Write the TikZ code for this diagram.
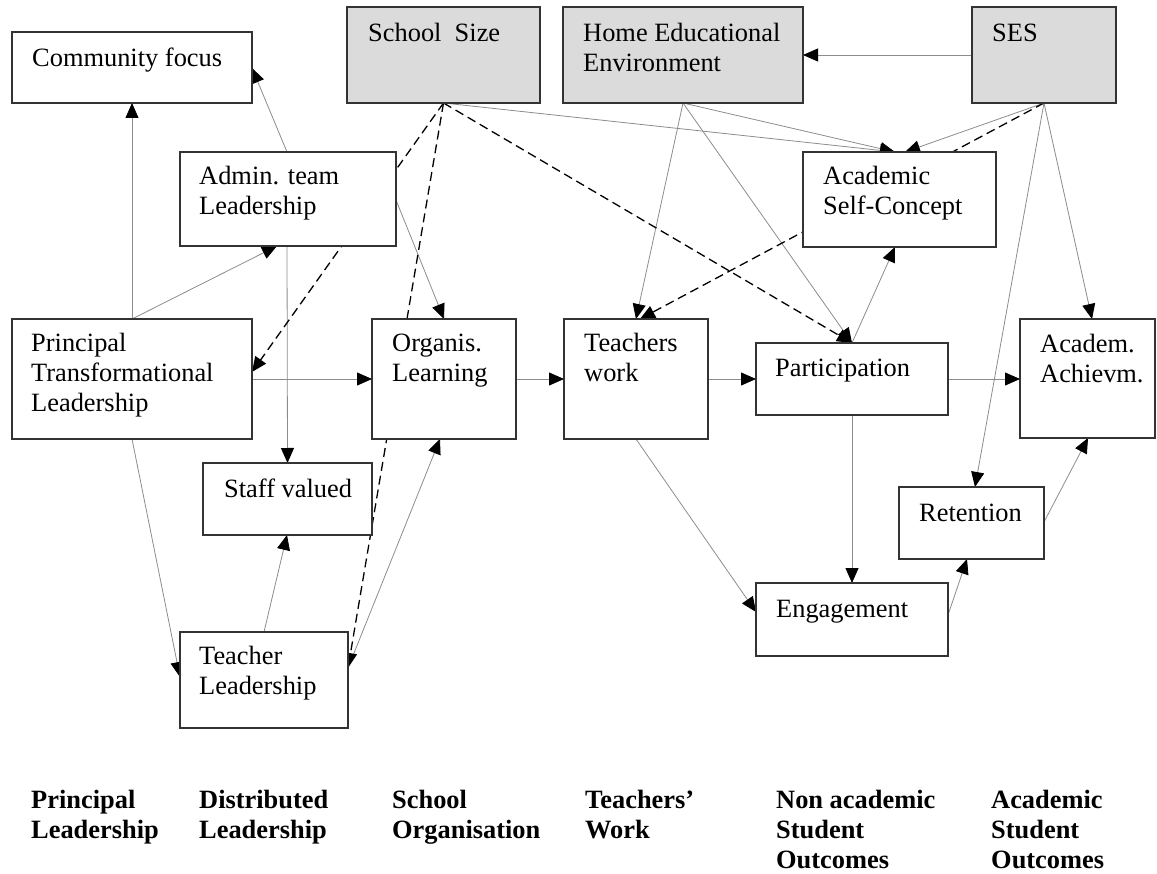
\documentclass[tikz,border=0pt]{standalone}
\usepackage{fontspec}
\setmainfont{Liberation Serif}
\usetikzlibrary{arrows.meta,calc,backgrounds}
% left-aligned block of lines whose baseline is the first line
\newcommand{\ml}[1]{\begin{tabular}[t]{@{}l@{}}#1\end{tabular}}
\begin{document}
\begin{tikzpicture}[x=1pt,y=-1pt,
  box/.style={draw=black!80, line width=1.2pt, fill=white, inner sep=0pt, outer sep=0pt, anchor=north west},
  ext/.style={box, fill=black!14},
  lbl/.style={inner sep=0pt, anchor=base west, font=\fontsize{26.4}{30}\selectfont},
  head/.style={inner sep=0pt, anchor=base west, font=\bfseries\fontsize{26.4}{30}\selectfont},
  link/.style={draw=black!45, line width=0.8pt, -{Triangle[length=15pt,width=13pt,color=black]}},
  dlink/.style={draw=black, line width=1.3pt, dash pattern=on 9pt off 5pt, -{Triangle[length=15pt,width=13pt,color=black]}},
]
\useasboundingbox (0,0) rectangle (1157,874);

% ---- boxes ----
\node[box, minimum width=240pt, minimum height=71pt]  (cf)   at (12,32)   {};
\node[ext, minimum width=193pt, minimum height=96pt]  (ss)   at (347,7)   {};
\node[ext, minimum width=240pt, minimum height=96pt]  (hee)  at (563,7)   {};
\node[ext, minimum width=144pt, minimum height=96pt]  (ses)  at (972,7)   {};
\node[box, minimum width=216pt, minimum height=94pt]  (adm)  at (180,152) {};
\node[box, minimum width=193pt, minimum height=95pt]  (asc)  at (803,152) {};
\node[box, minimum width=240pt, minimum height=120pt] (pr)   at (12,319)  {};
\node[box, minimum width=144pt, minimum height=120pt] (org)  at (372,319) {};
\node[box, minimum width=144pt, minimum height=120pt] (tw)   at (564,319) {};
\node[box, minimum width=192pt, minimum height=72pt]  (part) at (756,343) {};
\node[box, minimum width=135pt, minimum height=119pt] (ach)  at (1020,319) {};
\node[box, minimum width=169pt, minimum height=72pt]  (stf)  at (203,463) {};
\node[box, minimum width=145pt, minimum height=72pt]  (ret)  at (899,487) {};
\node[box, minimum width=192pt, minimum height=73pt]  (eng)  at (756,583) {};
\node[box, minimum width=168pt, minimum height=96pt]  (tl)   at (180,632) {};

% ---- box texts ----
\node[lbl] (cft)   at ($(cf.north west)+(20,35)$)   {\ml{Community focus}};
\node[lbl] (sst)   at ($(ss.north west)+(21,35)$)   {\ml{School~~Size}};
\node[lbl] (heet)  at ($(hee.north west)+(20,35)$)  {\ml{Home Educational\\Environment}};
\node[lbl] (sest)  at ($(ses.north west)+(20,35)$)  {\ml{SES}};
\node[lbl] (admt)  at ($(adm.north west)+(19,33)$)  {\ml{Admin. team\\Leadership}};
\node[lbl] (asct)  at ($(asc.north west)+(20,33)$)  {\ml{Academic\\Self-Concept}};
\node[lbl] (prt)   at ($(pr.north west)+(19,33)$)   {\ml{Principal\\Transformational\\Leadership}};
\node[lbl] (orgt)  at ($(org.north west)+(20,33)$)  {\ml{Organis.\\Learning}};
\node[lbl] (twt)   at ($(tw.north west)+(20,33)$)   {\ml{Teachers\\work}};
\node[lbl] (partt) at ($(part.north west)+(19,34)$) {\ml{Participation}};
\node[lbl] (acht)  at ($(ach.north west)+(20,34)$)  {\ml{Academ.\\Achievm.}};
\node[lbl] (stft)  at ($(stf.north west)+(21,34)$)  {\ml{Staff valued}};
\node[lbl] (rett)  at ($(ret.north west)+(20,34)$)  {\ml{Retention}};
\node[lbl] (engt)  at ($(eng.north west)+(20,34)$)  {\ml{Engagement}};
\node[lbl] (tlt)   at ($(tl.north west)+(19,32)$)   {\ml{Teacher\\Leadership}};

% ---- column headings ----
\node[head] (h1) at (31,808)  {\ml{Principal\\Leadership}};
\node[head] (h2) at (199,808) {\ml{Distributed\\Leadership}};
\node[head] (h3) at (392,808) {\ml{School\\Organisation}};
\node[head] (h4) at (585,808) {\ml{Teachers'\\Work}};
\node[head] (h5) at (776,808) {\ml{Non academic\\Student\\Outcomes}};
\node[head] (h6) at (991,808) {\ml{Academic\\Student\\Outcomes}};

% ---- connectors, behind the boxes ----
\begin{pgfonlayer}{background}
  % leadership paths
  \draw[link] ($(pr.north west)+(120,0)$) -- ($(cf.south west)+(120,0)$);
  \draw[link] ($(pr.north west)+(120,0)$) -- ($(adm.south west)+(97,0)$);
  \draw[link] ($(adm.north west)+(107,0)$) -- ($(cf.north east)+(0,36)$);
  \draw[link] ($(adm.south west)+(107,0)$) -- (stf.north);
  \draw[link] (pr.east) -- (org.west);
  \draw[link] ($(adm.north east)+(0,48)$) -- (org.north);
  \draw[link] ($(pr.south west)+(120,0)$) -- ($(tl.north west)+(0,45)$);
  \draw[link] ($(tl.north west)+(84,0)$) -- ($(stf.south west)+(84,0)$);
  \draw[link] ($(tl.north east)+(0,36)$) -- ($(org.south west)+(68,0)$);
  % main chain
  \draw[link] (org.east) -- (tw.west);
  \draw[link] (tw.east) -- (tw.east -| part.west);
  \draw[link] (part.east) -- (part.east -| ach.west);
  \draw[link] (tw.south) -- ($(eng.north west)+(0,29)$);
  \draw[link] (part.south) -- (eng.north);
  \draw[link] ($(eng.north east)+(0,32)$) -- ($(ret.south west)+(68,0)$);
  \draw[link] ($(ret.north east)+(0,35)$) -- ($(ach.south west)+(68,0)$);
  \draw[link] (part.north) -- ($(asc.south west)+(92,0)$);
  % background factors
  \draw[link] (ses.west) -- (ses.west -| hee.east);
  \draw[link] (ses.south) -- ($(asc.north west)+(102,0)$);
  \draw[link] (ses.south) -- ($(ret.north west)+(76,0)$);
  \draw[link] (ses.south) -- ($(ach.north west)+(72,0)$);
  \draw[link] (ss.south) -- ($(asc.north west)+(92,0)$);
  \draw[link] (hee.south) -- ($(asc.north west)+(92,0)$);
  \draw[link] (hee.south) -- (tw.north);
  \draw[link] (hee.south) -- (part.north);
  % dashed paths
  \draw[dlink] (ss.south) -- ($(pr.north east)+(0,53)$);
  \draw[dlink] (ss.south) -- ($(tl.north east)+(0,36)$);
  \draw[dlink] (ss.south) -- (part.north);
  \draw[dlink] (ses.south) -- ($(tw.north west)+(76,0)$);
\end{pgfonlayer}
\end{tikzpicture}
\end{document}
